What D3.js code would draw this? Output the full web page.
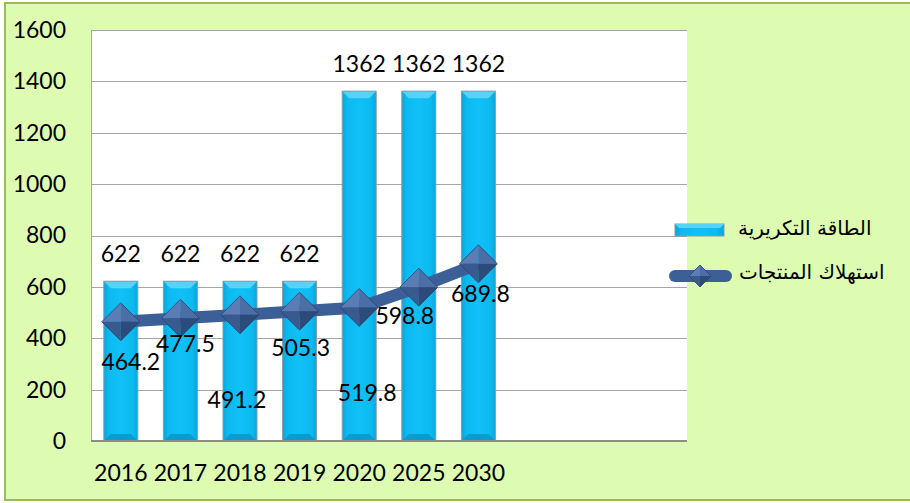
<!DOCTYPE html>
<html>
<head>
<meta charset="utf-8">
<script src="https://cdn.jsdelivr.net/npm/d3@7"></script>
<style>
  html, body { margin: 0; padding: 0; background: #fff; }
  svg { display: block; }
  .num { font-family: Lato, "Open Sans", sans-serif; font-size: 23px; fill: #000; }
  .legend { font-family: "DejaVu Sans", sans-serif; font-size: 20px; fill: #000; }
</style>
</head>
<body>
<svg id="chart" width="910" height="503"></svg>
<script>
// chart values
let years = ['2016', '2017', '2018', '2019', '2020', '2025', '2030']
let capacity = [622, 622, 622, 622, 1362, 1362, 1362]
let consumption = [464.2, 477.5, 491.2, 505.3, 519.8, 598.8, 689.8]
let yTicks = [0, 200, 400, 600, 800, 1000, 1200, 1400, 1600]
let seriesNames = ['الطاقة التكريرية', 'استهلاك المنتجات']

// where excel dropped the line labels (offset from the marker)
let lineLabelDx = [10, 5, -3, 1, 8, -14, 2]
let lineLabelDy = [40, 26, 85, 37, 85, 29, 30]

let svg = d3.select('#chart')
let plot = {left: 91, right: 687, top: 30, bottom: 441}
let slots = 10

let defs = svg.append('defs')
let grad = defs.append('linearGradient').attr('id', 'barGrad')
    .attr('x1', '0%').attr('x2', '100%').attr('y1', '0%').attr('y2', '0%')
grad.append('stop').attr('offset', '0%').attr('stop-color', '#08a6dc')
grad.append('stop').attr('offset', '15%').attr('stop-color', '#0cbaf0')
grad.append('stop').attr('offset', '50%').attr('stop-color', '#10c0f6')
grad.append('stop').attr('offset', '85%').attr('stop-color', '#0cbaf0')
grad.append('stop').attr('offset', '100%').attr('stop-color', '#08a6dc')

// background + frame
svg.append('rect')
    .attr('x', 5).attr('y', 3).attr('width', 915).attr('height', 497)
    .attr('fill', '#ddfbb1').attr('stroke', '#9bbb59').attr('stroke-width', 2)

svg.append('rect')
    .attr('x', plot.left).attr('y', plot.top)
    .attr('width', plot.right - plot.left).attr('height', plot.bottom - plot.top)
    .attr('fill', '#fff')

let x = d3.scaleBand()
    .domain(d3.range(slots))
    .range([plot.left, plot.right])
    .paddingInner(0.43)
    .paddingOuter(0.215)

let y = d3.scaleLinear()
    .domain([0, 1600])
    .range([plot.bottom, plot.top])

let cx = i => x(i) + x.bandwidth() / 2

// gridlines
svg.append('g').selectAll('line')
    .data(yTicks.filter(d => d > 0))
    .enter().append('line')
    .attr('x1', plot.left).attr('x2', plot.right)
    .attr('y1', d => Math.round(y(d)) + 0.5).attr('y2', d => Math.round(y(d)) + 0.5)
    .attr('stroke', '#a6a6a6').attr('stroke-width', 1)

svg.append('line')
    .attr('x1', plot.left + 0.5).attr('x2', plot.left + 0.5)
    .attr('y1', plot.top).attr('y2', plot.bottom)
    .attr('stroke', '#a6a6a6')

// y axis labels
let yAxis = svg.append('g')
    .attr('transform', 'translate(' + plot.left + ',0)')
    .call(d3.axisLeft(y).tickValues(yTicks).tickFormat(d3.format('d')).tickSize(0).tickPadding(25))
yAxis.select('.domain').remove()
yAxis.selectAll('text').attr('class', 'num').attr('fill', null).attr('font-size', null).attr('font-family', null)

// bars
let bevel = 7
let bars = svg.append('g').selectAll('g')
    .data(capacity)
    .enter().append('g')

bars.each(function (d, i) {
    let g = d3.select(this)
    let x0 = x(i), x1 = x(i) + x.bandwidth()
    let yt = y(d), yb = y(0)
    g.append('rect')
        .attr('x', x0).attr('y', yt).attr('width', x1 - x0).attr('height', yb - yt)
        .attr('fill', 'url(#barGrad)')
    g.append('polygon')
        .attr('points', [[x0, yt], [x1, yt], [x1 - bevel, yt + bevel], [x0 + bevel, yt + bevel]].join(' '))
        .attr('fill', '#55d3f8')
    g.append('polygon')
        .attr('points', [[x0, yb], [x1, yb], [x1 - bevel, yb - bevel], [x0 + bevel, yb - bevel]].join(' '))
        .attr('fill', '#0a9ccf')
    g.append('rect')
        .attr('x', x0).attr('y', yt).attr('width', x1 - x0).attr('height', yb - yt)
        .attr('fill', 'none').attr('stroke', '#8a9aa6').attr('stroke-width', 1)
})

// bottom axis line
svg.append('line')
    .attr('x1', plot.left).attr('x2', plot.right)
    .attr('y1', plot.bottom).attr('y2', plot.bottom)
    .attr('stroke', '#8c8c8c').attr('stroke-width', 2)

// bar labels
svg.append('g').selectAll('text')
    .data(capacity)
    .enter().append('text')
    .attr('class', 'num')
    .attr('x', (d, i) => cx(i))
    .attr('y', d => y(d) - 19)
    .attr('text-anchor', 'middle')
    .text(d => d)

// x labels
let xAxis = svg.append('g')
    .attr('transform', 'translate(0,' + plot.bottom + ')')
    .call(d3.axisBottom(x).tickValues(d3.range(years.length)).tickFormat(i => years[i]).tickSize(0).tickPadding(24))
xAxis.select('.domain').remove()
xAxis.selectAll('text').attr('class', 'num').attr('fill', null).attr('font-size', null).attr('font-family', null)

// line
let line = d3.line()
    .x((d, i) => cx(i))
    .y(d => y(d))

svg.append('path')
    .datum(consumption)
    .attr('d', line)
    .attr('fill', 'none')
    .attr('stroke', '#3d5f97')
    .attr('stroke-width', 12)
    .attr('stroke-linejoin', 'round')

function drawDiamond(g, px, py, r) {
    g.append('polygon').attr('points', [[px - r, py], [px, py - r], [px, py]].join(' ')).attr('fill', '#5a7db5')
    g.append('polygon').attr('points', [[px, py - r], [px + r, py], [px, py]].join(' ')).attr('fill', '#4b6ea6')
    g.append('polygon').attr('points', [[px - r, py], [px, py + r], [px, py]].join(' ')).attr('fill', '#385a8e')
    g.append('polygon').attr('points', [[px, py + r], [px + r, py], [px, py]].join(' ')).attr('fill', '#2c4a7a')
    g.append('polygon').attr('points', [[px - r, py], [px, py - r], [px + r, py], [px, py + r]].join(' '))
        .attr('fill', 'none').attr('stroke', '#2a446e').attr('stroke-width', 0.8)
}

let markers = svg.append('g')
consumption.forEach((d, i) => drawDiamond(markers, cx(i), y(d), 19))

svg.append('g').selectAll('text')
    .data(consumption)
    .enter().append('text')
    .attr('class', 'num')
    .attr('x', (d, i) => cx(i) + lineLabelDx[i])
    .attr('y', (d, i) => y(d) + lineLabelDy[i])
    .attr('dy', '0.35em')
    .attr('text-anchor', 'middle')
    .text(d => d.toFixed(1))

// legend
let legend = svg.append('g')
legend.append('rect')
    .attr('x', 675).attr('y', 224).attr('width', 49).attr('height', 12)
    .attr('fill', 'url(#barGrad)').attr('stroke', '#8a9aa6')
legend.append('polygon')
    .attr('points', [[675, 224], [724, 224], [720, 228], [679, 228]].join(' '))
    .attr('fill', '#55d3f8')
legend.append('text')
    .attr('class', 'legend')
    .attr('x', 738).attr('y', 228).attr('dy', '0.35em')
    .text(seriesNames[0])

legend.append('line')
    .attr('x1', 675).attr('x2', 726).attr('y1', 276).attr('y2', 276)
    .attr('stroke', '#3d5f97').attr('stroke-width', 12).attr('stroke-linecap', 'round')
drawDiamond(legend, 700, 276, 11)
legend.append('text')
    .attr('class', 'legend')
    .attr('x', 739).attr('y', 272).attr('dy', '0.35em')
    .text(seriesNames[1])
</script>
</body>
</html>
